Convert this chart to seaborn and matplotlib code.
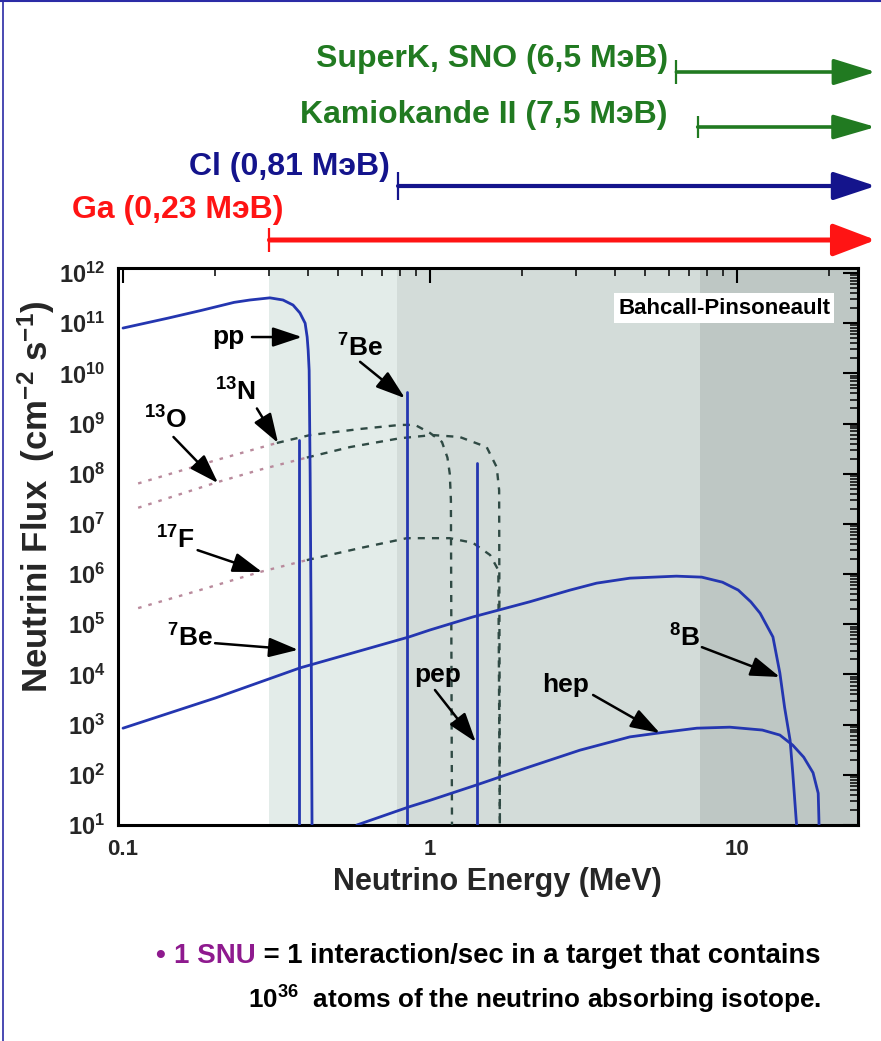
import numpy as np
import matplotlib
matplotlib.use("Agg")
import matplotlib.pyplot as plt
import matplotlib.transforms as mtransforms
from matplotlib.lines import Line2D
from matplotlib.ticker import LogLocator, FixedLocator, FixedFormatter, NullFormatter
import seaborn as sns

# ---------------- data ----------------
pp_E = [0.1, 0.14, 0.18, 0.23, 0.259, 0.301, 0.332, 0.358, 0.377, 0.392, 0.398, 0.401,
        0.404, 0.407, 0.410, 0.413]
pp_F = [8.0e10, 1.26e11, 1.8e11, 2.6e11, 2.9e11, 3.2e11, 2.9e11, 2.3e11, 1.6e11, 1.0e11,
        5.3e10, 2.9e10, 1.15e10, 1e8, 1e5, 5]

b8_E = [0.1, 0.2, 0.377, 0.855, 1.0, 1.38, 2.11, 2.86, 3.49, 4.48, 6.35, 7.68, 8.97, 10.1,
        11.1, 11.9, 13.1, 13.8, 14.3, 14.9, 15.2, 15.6, 15.8]
b8_F = [850, 3.4e3, 1.35e4, 5.6e4, 7.7e4, 1.4e5, 2.8e5, 4.8e5, 6.6e5, 8.3e5, 9.1e5, 8.7e5,
        6.9e5, 4.8e5, 2.8e5, 1.66e5, 5.6e4, 1.07e4, 2.2e3, 490, 110, 12.6, 5]

hep_E = [0.578, 0.855, 1.0, 1.42, 2.11, 3.08, 4.48, 5.74, 7.4, 9.48, 12.1, 13.8, 15.2, 16.5,
         17.7, 18.4, 18.5, 18.55]
hep_F = [10, 23, 31, 63, 144, 310, 570, 700, 850, 890, 780, 620, 390, 225, 110, 43, 12.6, 5]

n13_E = [0.112, 0.203, 0.317, 0.407, 0.592, 0.799, 0.894, 1.0, 1.094, 1.14, 1.16, 1.17, 1.18]
n13_F = [6.4e7, 1.9e8, 4.1e8, 5.9e8, 7.8e8, 9.4e8, 9.4e8, 6.5e8, 4.3e8, 2.1e8, 1.0e8, 3e7, 5]

o15_E = [0.112, 0.203, 0.279, 0.397, 0.549, 0.799, 1.02, 1.25, 1.53, 1.65, 1.68, 1.69]
o15_F = [2.1e7, 6.8e7, 1.2e8, 2.1e8, 3.4e8, 5.1e8, 5.9e8, 5.4e8, 3.4e8, 1.35e8, 4.7e7, 5]

f17_E = [0.112, 0.178, 0.279, 0.397, 0.592, 0.841, 1.16, 1.38, 1.57, 1.67, 1.69]
f17_F = [2.1e5, 4.8e5, 1.1e6, 1.9e6, 3.3e6, 5.2e6, 5.2e6, 4.2e6, 2.4e6, 1.2e6, 5]

line_names = ["7Be", "7Be", "pep"]
line_E = [0.374, 0.84, 1.42]
line_F = [4.7e8, 4.3e9, 1.6e8]

band_edges = [0.30, 0.78, 7.6]
band_colors = ["#e3ece9", "#d3dcd9", "#bec7c4"]

det_labels = ["SuperK, SNO (6,5 МэВ)", "Kamiokande II (7,5 МэВ)", "Cl (0,81 МэВ)", "Ga (0,23 МэВ)"]
det_thresholds = [6.35, 7.45, 0.787, 0.30]
det_colors = ["#217a21", "#217a21", "#14148c", "#ff1414"]

x_major = [0.1, 1, 10]
x_major_labels = ["0.1", "1", "10"]
y_major = [10.0 ** k for k in range(1, 13)]
y_major_labels = [r"$10^{%d}$" % k for k in range(1, 13)]

# ---------------- style ----------------
sns.set_theme(style="white")
plt.rcParams.update({
    "font.family": ["Liberation Sans", "DejaVu Sans"],
    "font.weight": "bold",
    "mathtext.fontset": "custom",
    "mathtext.rm": "Liberation Sans:bold",
    "mathtext.it": "Liberation Sans:bold:italic",
    "mathtext.bf": "Liberation Sans:bold",
    "mathtext.sf": "Liberation Sans:bold",
    "mathtext.default": "bf",
    "axes.edgecolor": "black",
    "axes.linewidth": 2.2,
})

W, H = 881, 1041
fig = plt.figure(figsize=(W / 100, H / 100), dpi=100)
fig.patch.set_facecolor("white")
ax = fig.add_axes([118 / W, 1 - 825 / H, (858 - 118) / W, (825 - 268) / H])
ax.set_facecolor("white")
ax.set_xscale("log")
ax.set_yscale("log")
ax.set_xlim(0.0963, 24.8)
ax.set_ylim(10, 10 ** 12.1)

# shaded threshold bands
edges = band_edges + [ax.get_xlim()[1]]
for i, c in enumerate(band_colors):
    ax.axvspan(edges[i], edges[i + 1], color=c, lw=0, zorder=0)

BLUE = "#2436b0"
PINK = "#b98a9c"
DARK = "#2f4a44"

# continuous spectra
for E, F in [(pp_E, pp_F), (b8_E, b8_F), (hep_E, hep_F)]:
    sns.lineplot(x=E, y=F, ax=ax, color=BLUE, lw=2.0, sort=False, estimator=None, zorder=4)

# line spectra (7Be, pep)
for E, F in zip(line_E, line_F):
    sns.lineplot(x=[E, E], y=[1, F], ax=ax, color=BLUE, lw=2.0, sort=False, estimator=None, zorder=4)

# CNO spectra: pale dotted in the white region, dark dashed elsewhere
for E, F in [(n13_E, n13_F), (o15_E, o15_F), (f17_E, f17_F)]:
    E = np.array(E); F = np.array(F)
    k = int(np.argmax(E >= band_edges[0]))
    sns.lineplot(x=E[:k + 1], y=F[:k + 1], ax=ax, color=PINK, lw=1.7, ls=(0, (1.5, 3)),
                 sort=False, estimator=None, zorder=3)
    sns.lineplot(x=E[k:], y=F[k:], ax=ax, color=DARK, lw=1.7, ls=(0, (3, 3)),
                 sort=False, estimator=None, zorder=3)

# ---------------- axes, ticks ----------------
ax.xaxis.set_major_locator(FixedLocator(x_major))
ax.xaxis.set_major_formatter(FixedFormatter(x_major_labels))
ax.xaxis.set_minor_locator(LogLocator(base=10, subs=np.arange(2, 10), numticks=20))
ax.xaxis.set_minor_formatter(NullFormatter())
ax.yaxis.set_major_locator(FixedLocator(y_major))
ax.yaxis.set_major_formatter(FixedFormatter(y_major_labels))
ax.yaxis.set_minor_locator(LogLocator(base=10, subs=np.arange(2, 10), numticks=30))
ax.yaxis.set_minor_formatter(NullFormatter())
ax.tick_params(which="major", direction="in", length=11, width=1.5, color="black",
               top=True, right=True, labelsize=17, pad=9)
ax.tick_params(which="minor", direction="in", length=5.5, width=1.1, color="black",
               top=True, right=True)
ax.tick_params(axis="x", which="major", pad=10, labelsize=16)
for s in ax.spines.values():
    s.set_linewidth(2.2)
    s.set_color("black")
ax.set_xlabel("")
ax.set_ylabel("")

fig.text(497 / W, 1 - 882 / H, "Neutrino Energy (MeV)", ha="center", va="center",
         fontsize=22, fontweight="bold")
fig.text(36 / W, 1 - 497 / H, r"Neutrini Flux  (cm$^{-2}$ s$^{-1}$)", rotation=90,
         ha="center", va="center", fontsize=25, fontweight="bold")

# ---------------- source annotations ----------------
ann = [
    ("pp", (0.220, 5.3e10), (0.263, 5.3e10), (0.383, 5.3e10)),
    (r"$^{7}$Be", (0.592, 3.2e10), (0.592, 1.7e10), (0.829, 3.2e9)),
    (r"$^{13}$N", (0.232, 4.3e9), (0.273, 2.0e9), (0.320, 4.1e8)),
    (r"$^{13}$O", (0.137, 1.2e9), (0.146, 5.4e8), (0.204, 6.5e7)),
    (r"$^{17}$F", (0.148, 4.8e6), (0.175, 3.0e6), (0.284, 1.1e6)),
    (r"$^{7}$Be", (0.165, 5.3e4), (0.1995, 4.2e4), (0.372, 3.1e4)),
    ("pep", (1.06, 9.8e3), (1.038, 4.9e3), (1.41, 450)),
    ("hep", (2.77, 6.2e3), (3.40, 3.9e3), (5.61, 680)),
    (r"$^{8}$B", (6.77, 5.3e4), (7.69, 3.5e4), (13.8, 8.9e3)),
]
for txt, tpos, tail, tip in ann:
    ax.text(tpos[0], tpos[1], txt, ha="center", va="center", fontsize=19,
            fontweight="bold", color="black", zorder=6)
    ax.annotate("", xy=tip, xytext=tail,
                arrowprops=dict(arrowstyle="-|>,head_length=1.2,head_width=0.4",
                                mutation_scale=15, lw=1.8, color="black",
                                shrinkA=0, shrinkB=0), zorder=6)

ax.text(0.819, 0.928, "Bahcall-Pinsoneault", transform=ax.transAxes, ha="center",
        va="center", fontsize=16, fontweight="bold", color="black", zorder=7,
        bbox=dict(facecolor="white", edgecolor="none", pad=3))

# ---------------- detector threshold arrows ----------------
tr_data = mtransforms.blended_transform_factory(ax.transData, fig.transFigure)
tr_axes = mtransforms.blended_transform_factory(ax.transAxes, fig.transFigure)
arrow_y = [72, 127, 186, 240]
bar_half = [12, 11, 14, 12]
text_base = [67, 123, 175, 218]
text_right = [668, 668, 390, 283]
arrow_lw = [2.6, 2.6, 3.0, 3.6]
head_w = [0.45, 0.42, 0.48, 0.55]
for lab, thr, col, ay, bh, tb, tr, lw, hw in zip(det_labels, det_thresholds, det_colors,
                                                arrow_y, bar_half, text_base, text_right,
                                                arrow_lw, head_w):
    yf = 1 - ay / H
    ax.annotate("", xy=(1.024, yf), xycoords=tr_axes, xytext=(thr, yf), textcoords=tr_data,
                arrowprops=dict(arrowstyle="-|>,head_length=1.45,head_width=%g" % hw,
                                mutation_scale=18, lw=lw, color=col, shrinkA=0, shrinkB=0),
                annotation_clip=False)
    ax.plot([thr, thr], [1 - (ay - bh) / H, 1 - (ay + bh) / H], transform=tr_data,
            color=col, lw=1.6, clip_on=False, solid_capstyle="butt")
    fig.text(tr / W, 1 - tb / H, lab, ha="right", va="baseline", fontsize=23,
             fontweight="bold", color=col)

# ---------------- footnote ----------------
PURPLE = "#8e1a8e"
fig.text(155 / W, 1 - 963 / H, "•", ha="left", va="baseline", fontsize=20,
         fontweight="bold", color=PURPLE)
t_snu = fig.text(174 / W, 1 - 963 / H, "1 SNU", ha="left", va="baseline", fontsize=20,
                 fontweight="bold", color=PURPLE)
fig.canvas.draw()
bb = t_snu.get_window_extent()
fig.text(bb.x1 / W, 1 - 963 / H, " = 1 interaction/sec in a target that contains",
         ha="left", va="baseline", fontsize=19.7, fontweight="bold", color="black")
fig.text(248 / W, 1 - 1009 / H, r"$10^{36}$  atoms of the neutrino absorbing isotope.",
         ha="left", va="baseline", fontsize=18.8, fontweight="bold", color="black")

# slide frame (blue edge lines)
fig.add_artist(Line2D([0, 1], [1 - 1 / H, 1 - 1 / H], transform=fig.transFigure,
                      color="#2b2ba6", lw=1.5))
fig.add_artist(Line2D([3 / W, 3 / W], [0, 1], transform=fig.transFigure,
                      color="#2b2ba6", lw=1.2))

fig.savefig("out.png", dpi=100)
